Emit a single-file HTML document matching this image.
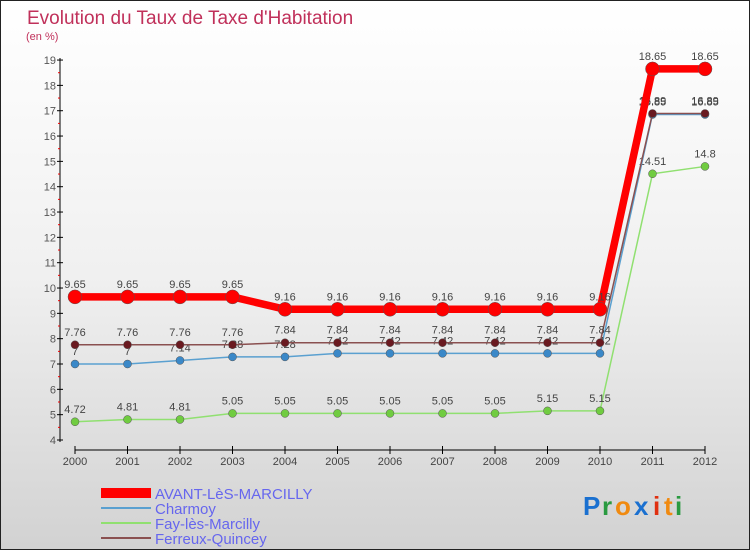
<!DOCTYPE html>
<html><head><meta charset="utf-8"><style>
body{margin:0;}
#c{width:750px;height:550px;position:relative;box-sizing:border-box;border:1px solid #222;background:linear-gradient(#fff 0%,#f0f0f0 50%,#d2d2d2 100%);font-family:"Liberation Sans",sans-serif;overflow:hidden}
</style></head><body>
<div id="c">
<svg id="s" width="750" height="550" style="position:absolute;left:-1px;top:-1px"></svg>
</div>
<script>
const years=[2000,2001,2002,2003,2004,2005,2006,2007,2008,2009,2010,2011,2012];
const avant=[9.65,9.65,9.65,9.65,9.16,9.16,9.16,9.16,9.16,9.16,9.16,18.65,18.65];
const charmoy=[7,7,7.14,7.28,7.28,7.42,7.42,7.42,7.42,7.42,7.42,16.85,16.85];
const fay=[4.72,4.81,4.81,5.05,5.05,5.05,5.05,5.05,5.05,5.15,5.15,14.51,14.8];
const ferreux=[7.76,7.76,7.76,7.76,7.84,7.84,7.84,7.84,7.84,7.84,7.84,16.89,16.89];
const yTicks=[4,5,6,7,8,9,10,11,12,13,14,15,16,17,18,19];
const NS="http://www.w3.org/2000/svg",s=document.getElementById('s');
const X=i=>75+i*52.5, Y=v=>440-(v-4)*25.33;
function el(t,a,txt){const e=document.createElementNS(NS,t);for(const k in a)e.setAttribute(k,a[k]);if(txt!=null)e.textContent=txt;s.appendChild(e);return e;}
let e;
e=el('text',{x:27,y:24,fill:'#c0305a','font-size':19},'Evolution du Taux de Taxe d\'Habitation');


e=el('text',{x:26,y:40,fill:'#c0305a','font-size':11},'(en %)');


e=el('line',{x1:60,y1:58,x2:60,y2:442,stroke:'#000'});


e=el('line',{x1:75,y1:450,x2:705,y2:450,stroke:'#000'});


yTicks.forEach(v=>{
 el('line',{x1:57,y1:Y(v),x2:63,y2:Y(v),stroke:'#000'});
 if(v<19)el('line',{x1:58,y1:Y(v+0.5),x2:60,y2:Y(v+0.5),stroke:'#e00'});
 e=el('text',{x:56,y:Y(v)+4,'text-anchor':'end','font-size':11,fill:'#555'},v);
 
 
});
years.forEach((y,i)=>{
 el('line',{x1:X(i),y1:446,x2:X(i),y2:454,stroke:'#000'});
 e=el('text',{x:X(i),y:465,'text-anchor':'middle','font-size':11,fill:'#444'},y);
 
 
});
function series(d,col,dot,w,r,name){
 e=el('polyline',{points:d.map((v,i)=>X(i)+','+Y(v)).join(' '),fill:'none',stroke:col,'stroke-width':w});
 
 
 d.forEach((v,i)=>{
  e=el('circle',{cx:X(i),cy:Y(v),r:r,fill:dot,stroke:'#555','stroke-width':0.5});
  
  
  e=el('text',{x:X(i),y:Y(v)-9,'text-anchor':'middle','font-size':11,fill:'#444'},v);
  
  
 });
}
series(fay,'#90e070','#70cc40',1.5,4,'fay');
series(charmoy,'#5aa0d0','#3a88c8',1.5,4,'charmoy');
series(ferreux,'#8a5050','#6a1a20',1.5,4,'ferreux');
series(avant,'#f00','#f00',7.5,7,'avant');
const leg=[['AVANT-LèS-MARCILLY','#f00',10],['Charmoy','#5aa0d0',2],['Fay-lès-Marcilly','#90e070',2],['Ferreux-Quincey','#8a5050',2]];
leg.forEach((l,i)=>{
 const y=493+i*15;
 e=el('line',{x1:101,y1:y,x2:151,y2:y,stroke:l[1],'stroke-width':l[2]});
 
 
 e=el('text',{x:155,y:y+6,'font-size':15,fill:'#6666ee'},l[0]);
 
 
});
const logo=[['P','#1a70d0'],['r','#2a9a40'],['o','#f08a10'],['x','#1a70d0'],['i','#e03010'],['t','#f08a10'],['i','#2a9a40']];
let lx=583;
logo.forEach(c=>{e=el('text',{x:lx,y:515,'font-size':26,fill:c[1],'font-weight':'bold'},c[0]);
 
 
 lx+= c[0]=='i'||c[0]=='t'?11:(c[0]=='r'?13:19);});
</script>
</body></html>
